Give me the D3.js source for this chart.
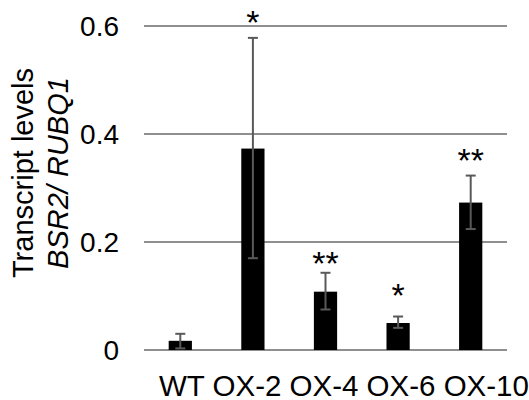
<!DOCTYPE html>
<html>
<head>
<meta charset="utf-8">
<script src="https://cdn.jsdelivr.net/npm/d3@7"></script>
<style>
  html, body { margin: 0; padding: 0; background: #fff; }
  text { font-family: 'Liberation Sans', Arial, sans-serif; fill: #000; }
</style>
</head>
<body>
<div id="chart"></div>
<script>
// chart values
const categories = ['WT', 'OX-2', 'OX-4', 'OX-6', 'OX-10'];
const means = [0.017, 0.373, 0.108, 0.050, 0.273];
const errLow = [0.003, 0.170, 0.075, 0.041, 0.224];
const errHigh = [0.030, 0.578, 0.143, 0.062, 0.323];
const signif = ['', '*', '**', '*', '**'];
const signifY = [0, 0.622, 0.174, 0.115, 0.365];
const yTicks = [0, 0.2, 0.4, 0.6];

const width = 529, height = 400;

const svg = d3.select('#chart')
  .append('svg')
  .attr('width', width)
  .attr('height', height);

const x = d3.scaleBand()
  .domain(categories)
  .range([144, 507])
  .paddingInner(0.68)
  .paddingOuter(0.34);

const y = d3.scaleLinear()
  .domain([0, 0.6])
  .range([350, 26]);

// gridlines (the 0 line doubles as the baseline)
svg.append('g')
  .selectAll('line')
  .data(yTicks)
  .enter()
  .append('line')
  .attr('x1', x.range()[0])
  .attr('x2', x.range()[1])
  .attr('y1', d => y(d))
  .attr('y2', d => y(d))
  .style('stroke', '#8f8f8f')
  .style('stroke-width', 2);

// y tick labels
svg.append('g')
  .selectAll('text')
  .data(yTicks)
  .enter()
  .append('text')
  .attr('x', 119)
  .attr('y', d => y(d))
  .attr('dy', '0.36em')
  .style('text-anchor', 'end')
  .style('font-size', '28px')
  .text(d => d === 0 ? '0' : d.toFixed(1));

// bars
const rows = categories.map((c, i) => ({
  cat: c, mean: means[i], lo: errLow[i], hi: errHigh[i], sig: signif[i], sigY: signifY[i]
}));

svg.append('g')
  .selectAll('rect')
  .data(rows)
  .enter()
  .append('rect')
  .attr('x', d => x(d.cat))
  .attr('width', x.bandwidth())
  .attr('y', d => y(d.mean))
  .attr('height', d => y(0) - y(d.mean))
  .style('fill', '#000');

// error bars
const eb = svg.append('g')
  .selectAll('g')
  .data(rows)
  .enter()
  .append('g')
  .style('stroke', '#595959')
  .style('stroke-width', 2);

eb.append('line')
  .attr('x1', d => x(d.cat) + x.bandwidth() / 2)
  .attr('x2', d => x(d.cat) + x.bandwidth() / 2)
  .attr('y1', d => y(d.lo))
  .attr('y2', d => y(d.hi));

eb.selectAll('.cap')
  .data(d => [d.lo, d.hi].map(v => ({ cat: d.cat, v })))
  .enter()
  .append('line')
  .attr('class', 'cap')
  .attr('x1', d => x(d.cat) + x.bandwidth() / 2 - 5)
  .attr('x2', d => x(d.cat) + x.bandwidth() / 2 + 5)
  .attr('y1', d => y(d.v))
  .attr('y2', d => y(d.v));

// significance marks
svg.append('g')
  .selectAll('text')
  .data(rows.filter(d => d.sig))
  .enter()
  .append('text')
  .attr('x', d => x(d.cat) + x.bandwidth() / 2)
  .attr('y', d => y(d.sigY))
  .attr('dy', '0.57em')
  .style('text-anchor', 'middle')
  .style('font-size', '34px')
  .text(d => d.sig);

// category labels: one run of text, as in the source figure
svg.append('text')
  .attr('x', x.range()[0] + 15)
  .attr('y', 396)
  .style('font-size', '29.5px')
  .text(categories.join(' '));

// y axis title, two lines
const title = svg.append('text')
  .attr('transform', `translate(33,173) rotate(-90)`)
  .style('text-anchor', 'middle')
  .style('font-size', '29px');

title.append('tspan')
  .attr('x', 0)
  .attr('dy', 0)
  .text('Transcript levels');

title.append('tspan')
  .attr('x', 0)
  .attr('dy', 35)
  .style('font-style', 'italic')
  .text('BSR2/ RUBQ1');
</script>
</body>
</html>
